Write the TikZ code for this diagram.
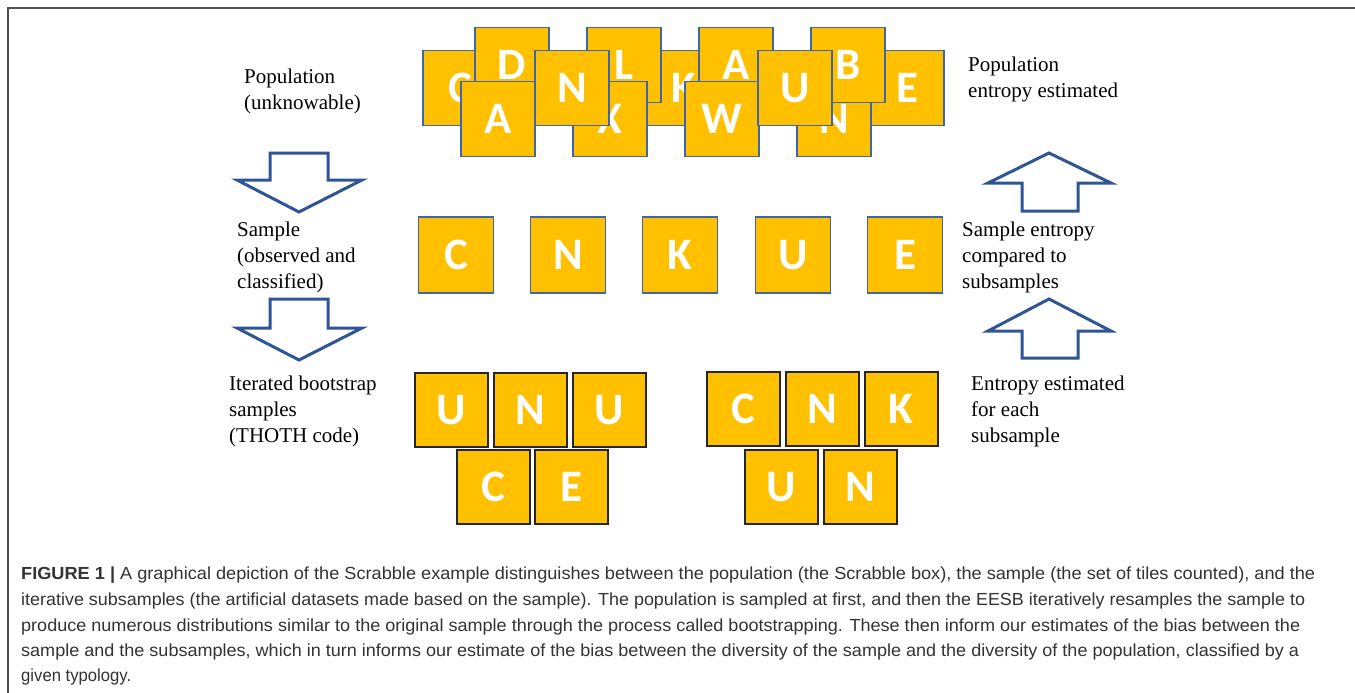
\documentclass[tikz,border=0pt]{standalone}
\usepackage{fontspec}
\usepackage{graphicx}
\setmainfont{Liberation Serif}
\newfontfamily\tilefont{Carlito}
\newfontfamily\capfont{Liberation Sans}
\definecolor{tilefill}{HTML}{FFC000}
\definecolor{tileblue}{HTML}{3F66A6}
\definecolor{arrowblue}{HTML}{2F5597}
\definecolor{tiledark}{HTML}{262626}
\definecolor{captext}{HTML}{333333}
\definecolor{framegray}{HTML}{505050}
\tikzset{
  tilebase/.style={fill=tilefill, inner sep=0pt, text=white,
    font=\tilefont\bfseries\fontsize{45}{45}\selectfont},
  tiletop/.style={tilebase, draw=tileblue, line width=1.6pt,
    minimum width=74pt, minimum height=75pt},
  tilemid/.style={tilebase, draw=tileblue, line width=1.6pt,
    minimum width=75pt, minimum height=76pt},
  tilebot/.style={tilebase, draw=tiledark, line width=2pt,
    minimum width=73pt, minimum height=74pt},
  blockarrow/.style={draw=arrowblue, line width=3pt, fill=white, line join=miter},
  lbl/.style={anchor=base west, align=left, inner sep=0pt,
    font=\fontsize{21}{26}\selectfont},
  capline/.style={anchor=base west, inner sep=0pt, text=captext,
    font=\capfont\fontsize{17.5}{20}\selectfont},
  framestyle/.style={draw=framegray, line width=1.2pt}
}
\begin{document}
\begin{tikzpicture}[x=1pt,y=-1pt]
\useasboundingbox (0,0) rectangle (1355,693);
\fill[white] (0,0) rectangle (1355,693);
% frame
\coordinate (fbl) at (8,693);
\coordinate (ftl) at (8,8);
\coordinate (ftr) at (1355,8);
\draw[framestyle] (fbl) -- (ftl) -- (ftr);

% population cluster: back row
\node[tiletop] (pC) at (460,88) {C};
\node[tiletop] (pK) at (684,88) {K};
\node[tiletop] (pE) at (907,88) {E};
% top row
\node[tiletop] (pD) at (512,65) {D};
\node[tiletop] (pL) at (624,65) {L};
\node[tiletop] (pA1) at (736,65) {A};
% bottom row
\node[tiletop] (pA2) at (498,119) {A};
\node[tiletop] (pX) at (610,119) {X};
\node[tiletop] (pW) at (722,119) {W};
\node[tiletop] (pN2) at (834,119) {N};
\node[tiletop] (pB) at (848,65) {B};
% middle row front
\node[tiletop] (pN1) at (572,88) {N};
\node[tiletop] (pU) at (795,88) {U};

% sample row
\node[tilemid] (sC) at (456,255) {C};
\node[tilemid] (sN) at (568,255) {N};
\node[tilemid] (sK) at (680,255) {K};
\node[tilemid] (sU) at (793,255) {U};
\node[tilemid] (sE) at (905,255) {E};

% bootstrap sample 1
\node[tilebot] (b1U) at (451,410) {U};
\node[tilebot] (b1N) at (530,410) {N};
\node[tilebot] (b1V) at (609,410) {U};
\node[tilebot] (b1C) at (493,487) {C};
\node[tilebot] (b1E) at (571,487) {E};
% bootstrap sample 2
\node[tilebot] (b2C) at (743,409) {C};
\node[tilebot] (b2N) at (822,409) {N};
\node[tilebot] (b2K) at (901,409) {K};
\node[tilebot] (b2U) at (781,487) {U};
\node[tilebot] (b2M) at (860,487) {N};

% block arrows (down, left side)
\draw[blockarrow] (270,153) -- (328,153) -- (328,180) -- (362,180) -- (299,212)
  -- (237,180) -- (270,180) -- cycle;
\draw[blockarrow] (270,299) -- (328,299) -- (328,328) -- (362,328) -- (299,360)
  -- (237,328) -- (270,328) -- cycle;
% block arrows (up, right side)
\draw[blockarrow] (1022,211) -- (1078,211) -- (1078,183) -- (1111,183) -- (1049,153)
  -- (988,183) -- (1022,183) -- cycle;
\draw[blockarrow] (1022,358) -- (1078,358) -- (1078,331) -- (1111,331) -- (1049,299)
  -- (988,331) -- (1022,331) -- cycle;

% labels (base anchor = baseline of last line)
\node[lbl] (popL) at (244,110) {Population\\(unknowable)};
\node[lbl] (samL) at (237,288) {Sample\\(observed and\\classified)};
\node[lbl] (itL) at (229,442) {Iterated bootstrap\\samples\\(THOTH code)};
\node[lbl] (popR) at (968,97) {Population\\entropy estimated};
\node[lbl] (samR) at (962,288) {Sample entropy\\compared to\\subsamples};
\node[lbl] (entR) at (971,442) {Entropy estimated\\for each\\subsample};

% caption
\node[capline] (cap1) at (21,579) {\resizebox{1294pt}{\height}{\textbf{FIGURE 1 |} A graphical depiction of the Scrabble example distinguishes between the population (the Scrabble box), the sample (the set of tiles counted), and the}};
\node[capline] (cap2) at (21,605) {\resizebox{1284pt}{\height}{iterative subsamples (the artificial datasets made based on the sample). The population is sampled at first, and then the EESB iteratively resamples the sample to}};
\node[capline] (cap3) at (21,631) {\resizebox{1279pt}{\height}{produce numerous distributions similar to the original sample through the process called bootstrapping. These then inform our estimates of the bias between the}};
\node[capline] (cap4) at (21,656) {\resizebox{1278pt}{\height}{sample and the subsamples, which in turn informs our estimate of the bias between the diversity of the sample and the diversity of the population, classified by a}};
\node[capline] (cap5) at (21,681) {\resizebox{110pt}{\height}{given typology.}};
\end{tikzpicture}
\end{document}
